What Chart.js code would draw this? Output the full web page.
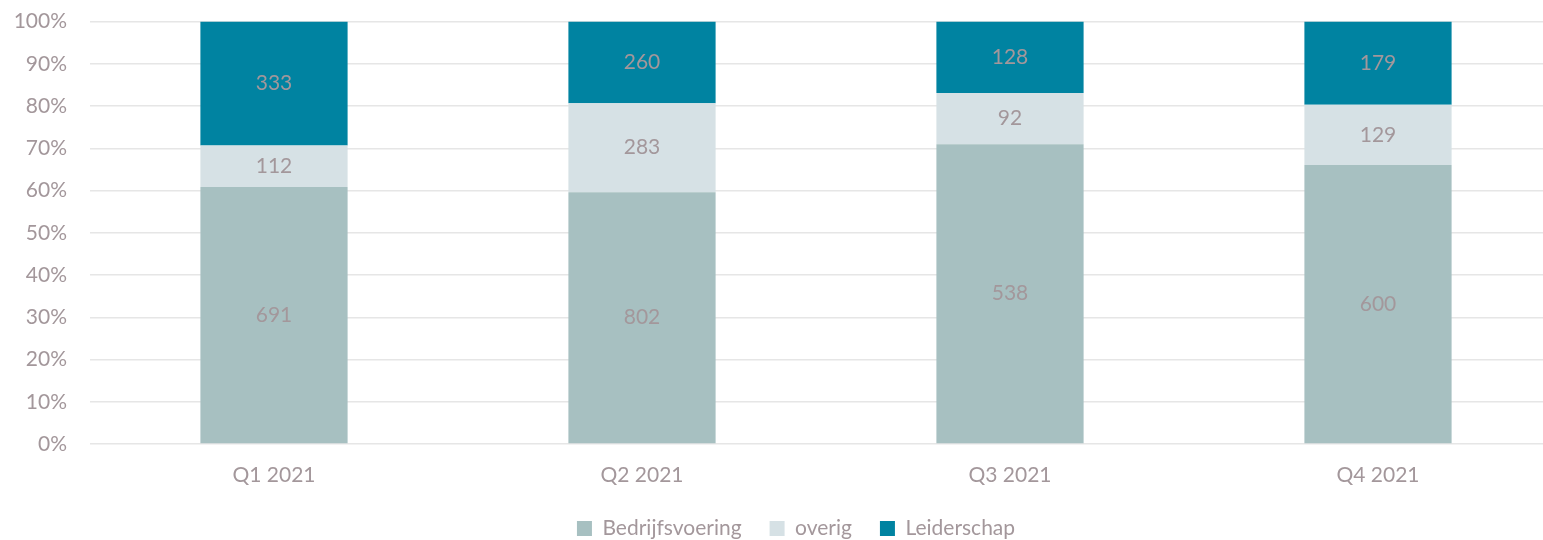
<!DOCTYPE html>
<html>
<head>
<meta charset="utf-8">
<script src="https://cdn.jsdelivr.net/npm/chart.js@4/dist/chart.umd.min.js"></script>
<style>
  html, body { margin: 0; padding: 0; background: #fff; overflow: hidden; }
  #wrap { width: 1562px; height: 554px; margin-top: -14px; }
</style>
</head>
<body>
<div id="wrap"><canvas id="myChart"></canvas></div>
<script>
const quarters = ['Q1 2021', 'Q2 2021', 'Q3 2021', 'Q4 2021'];
const bedrijfsvoering = [691, 802, 538, 600];
const overig = [112, 283, 92, 129];
const leiderschap = [333, 260, 128, 179];

const textColor = '#A3979B';
const fontFamily = 'Lato, "Open Sans", sans-serif';
const totals = quarters.map((q, i) => bedrijfsvoering[i] + overig[i] + leiderschap[i]);
const toPct = (arr) => arr.map((v, i) => v / totals[i] * 100);

// draws the raw count in the middle of each segment
const countLabels = {
  id: 'countLabels',
  afterDatasetsDraw(chart) {
    const ctx = chart.ctx;
    ctx.save();
    ctx.font = '21px ' + fontFamily;
    ctx.fillStyle = textColor;
    ctx.textAlign = 'center';
    ctx.textBaseline = 'middle';
    chart.data.datasets.forEach((ds, di) => {
      const meta = chart.getDatasetMeta(di);
      meta.data.forEach((bar, i) => {
        const y = (bar.y + bar.base) / 2;
        ctx.fillText(String(ds.counts[i]), bar.x, y);
      });
    });
    ctx.restore();
  },
};

// keep the wide spacing between legend items but a shorter legend box,
// and nudge the legend row a little to the right like the original
const legendTweak = {
  id: 'legendTweak',
  afterInit(chart) {
    const legend = chart.legend;
    const fit = legend.fit;
    legend.fit = function() {
      fit.call(this);
      this.height = 50;
    };
  },
  afterLayout(chart) {
    chart.legend.left += 30;
  },
};

const data = {
  labels: quarters,
  datasets: [
    {label: 'Bedrijfsvoering', data: toPct(bedrijfsvoering), counts: bedrijfsvoering, backgroundColor: '#A7C0C1'},
    {label: 'overig', data: toPct(overig), counts: overig, backgroundColor: '#D6E1E5'},
    {label: 'Leiderschap', data: toPct(leiderschap), counts: leiderschap, backgroundColor: '#0083A1'},
  ],
};

const options = {
  responsive: true,
  maintainAspectRatio: false,
  animation: false,
  layout: {padding: 0},
  datasets: {bar: {barPercentage: 0.8, categoryPercentage: 0.5}},
  plugins: {
    legend: {
      position: 'bottom',
      labels: {
        color: textColor,
        font: {size: 21, family: fontFamily},
        boxWidth: 15,
        boxHeight: 15,
        padding: 28,
      },
    },
    tooltip: {enabled: false},
  },
  scales: {
    x: {
      stacked: true,
      grid: {display: false, drawTicks: false},
      border: {display: false},
      ticks: {color: textColor, font: {size: 21, family: fontFamily}, padding: 19},
      afterFit: (scale) => { scale.height = 46; },
    },
    y: {
      stacked: true,
      min: 0,
      max: 100,
      border: {display: false},
      grid: {color: '#E6E6E6', lineWidth: 1.5, drawTicks: false},
      ticks: {
        stepSize: 10,
        color: textColor,
        font: {size: 21, family: fontFamily},
        padding: 23,
        callback: (value) => value + '%',
      },
      afterFit: (scale) => { scale.width = 90; },
    },
  },
};

new Chart(document.getElementById('myChart'), {
  type: 'bar',
  data: data,
  options: options,
  plugins: [legendTweak, countLabels],
});
</script>
</body>
</html>
